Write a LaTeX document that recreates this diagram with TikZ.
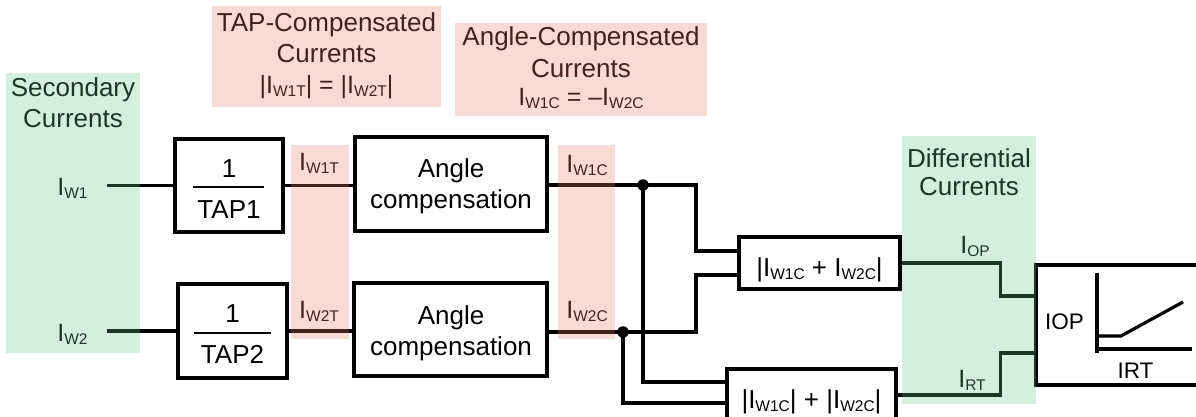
\documentclass[tikz,border=0pt]{standalone}
\usepackage{fontspec}
\setmainfont{Liberation Sans}
\newcommand\setfs[1]{\fontsize{#1}{#1}\selectfont}
% current symbol with a lowered subscript
\newcommand\Isub[1]{I\raisebox{-3pt}{\setfs{15.5}#1}}
\definecolor{greenov}{RGB}{101,198,144}
\definecolor{pinkov}{RGB}{230,123,108}
\tikzset{
  wire/.style={line width=3.2pt},
  blk/.style={draw, line width=3.2pt, inner sep=0pt, fill=white},
  txt/.style={anchor=base, inner sep=0pt, font=\setfs{26}},
  lbl/.style={anchor=base, inner sep=0pt, font=\setfs{25}},
  dot/.style={circle, fill=black, inner sep=0pt, minimum size=11.5pt},
  fracbar/.style={line width=1.8pt},
  greenband/.style={fill=greenov, fill opacity=0.28},
  pinkband/.style={fill=pinkov, fill opacity=0.28}
}
\begin{document}
\begin{tikzpicture}[x=1pt, y=-1pt]
\useasboundingbox (0,0) rectangle (1196,417);
\clip (0,0) rectangle (1196,417);

% blocks
\node[blk, minimum width=108pt, minimum height=93pt] (tap1) at (229,185.5) {};
\node[blk, minimum width=109pt, minimum height=94pt] (tap2) at (232.5,331) {};
\node[blk, minimum width=192pt, minimum height=94pt] (ang1) at (451,184) {};
\node[blk, minimum width=193pt, minimum height=93pt] (ang2) at (450.5,329.5) {};
\node[blk, minimum width=161pt, minimum height=52pt] (sum) at (819.5,263) {};
\node[blk, minimum width=169pt, minimum height=52pt] (abs) at (811.5,395) {};
\node[blk, minimum width=200pt, minimum height=120pt] (big) at (1136,325) {};

% block contents
\node[txt] (t1a) at (229,177) {1};
\node[txt] (t1b) at (229,218) {TAP1};
\draw[fracbar] (193,187) -- (264,187);
\node[txt] (t2a) at (232.5,322) {1};
\node[txt] (t2b) at (232.5,363) {TAP2};
\draw[fracbar] (194,333) -- (271,333);
\node[txt] (a1a) at (451,177) {Angle};
\node[txt] (a1b) at (451,208) {compensation};
\node[txt] (a2a) at (451,324) {Angle};
\node[txt] (a2b) at (451,355) {compensation};
\node[txt] (sumt) at (819.5,276) {|\Isub{W1C} + \Isub{W2C}|};
\node[txt] (abst) at (811.5,408) {|\Isub{W1C}| + |\Isub{W2C}|};
\node[anchor=base west, inner sep=0pt, font=\setfs{22.5}] (iop) at (1045,329) {IOP};
\node[anchor=base, inner sep=0pt, font=\setfs{22.5}] (irt) at (1135.5,378) {IRT};
% operating characteristic
\draw[wire] (1097,273) -- (1097,353);
\draw[wire] (1097,349) -- (1192,349);
\draw[wire] (1097,336) -- (1121,336) -- (1183,302);

% inputs
\coordinate (in1) at (107,185.5);
\coordinate (in2) at (107,331);
\node[lbl] (lw1) at (72.5,195) {\Isub{W1}};
\node[lbl] (lw2) at (72.5,341) {\Isub{W2}};

% junctions
\node[dot] (j1) at (643,185) {};
\node[dot] (j2) at (623,332) {};

% wiring
\draw[wire] (in1) -- (tap1.west);
\draw[wire] (in2) -- (tap2.west);
\draw[wire] (tap1.east) -- (tap1.east -| ang1.west);
\draw[wire] (tap2.east) -- (tap2.east -| ang2.west);
\draw[wire] (ang1.east |- j1) -- (j1.center) -- ++(53,0) |- ([yshift=12pt]sum.west);
\draw[wire] (ang2.east |- j2) -- (j2.center) -- ++(73,0) |- ([yshift=-12pt]sum.west);
\draw[wire] (j1.center) |- ([yshift=13pt]abs.west);
\draw[wire] (j2.center) |- ([yshift=-8pt]abs.west);
\draw[wire] (sum.east) -- ++(99,0) |- ([yshift=29pt]big.west);
\draw[wire] (abs.east) -- ++(103,0) |- ([yshift=-28pt]big.west);

% signal labels
\node[lbl] (lw1t) at (319,170) {\Isub{W1T}};
\node[lbl] (lw2t) at (319,318) {\Isub{W2T}};
\node[lbl] (lw1c) at (587,172) {\Isub{W1C}};
\node[lbl] (lw2c) at (587,318) {\Isub{W2C}};
\node[lbl] (lop) at (975,253) {\Isub{OP}};
\node[lbl] (lrt) at (972,387) {\Isub{RT}};

% headings
\node[txt] (sec1) at (73,97) {Secondary};
\node[txt] (sec2) at (73,128) {Currents};
\node[txt] (tc1) at (326.5,32) {TAP-Compensated};
\node[txt] (tc2) at (326.5,63) {Currents};
\node[lbl] (tc3) at (326.5,94) {|\Isub{W1T}| = |\Isub{W2T}|};
\node[txt] (ac1) at (581,46) {Angle-Compensated};
\node[txt] (ac2) at (581,78) {Currents};
\node[lbl] (ac3) at (581,106) {\Isub{W1C} = \textendash\Isub{W2C}};
\node[txt] (dc1) at (969,167) {Differential};
\node[txt] (dc2) at (969,195) {Currents};

% translucent bands over the signal groups
\fill[greenband] (6,73) rectangle (140,353);
\fill[greenband] (902,136) rectangle (1036,404);
\fill[pinkband] (212,6) rectangle (441,107);
\fill[pinkband] (455,23) rectangle (707,116);
\fill[pinkband] (291,145) rectangle (349,339);
\fill[pinkband] (558,145) rectangle (615,339);
\end{tikzpicture}
\end{document}
